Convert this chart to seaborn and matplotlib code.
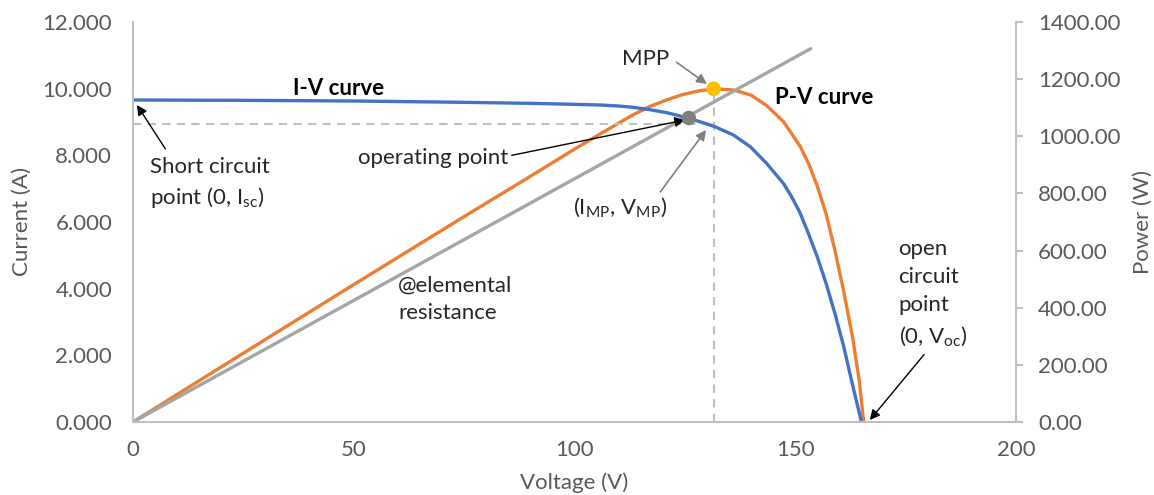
import matplotlib
matplotlib.use("Agg")
import matplotlib.pyplot as plt
import seaborn as sns

# ---- data ----
iv_voltage = [0, 25, 50, 75, 90, 100, 105.8, 110, 113.3, 117, 120.9, 124.5, 128.4,
              131.8, 136.0, 139.8, 143.5, 147.3, 149, 151, 153, 155, 157, 159, 161,
              163, 165.0]
iv_current = [9.66, 9.65, 9.63, 9.59, 9.56, 9.53, 9.51, 9.48, 9.44, 9.37, 9.28, 9.16,
              9.01, 8.86, 8.61, 8.26, 7.76, 7.16, 6.80, 6.30, 5.65, 4.95, 4.15, 3.25,
              2.25, 1.10, 0.0]
pv_voltage = [0, 25, 50, 75, 90, 100, 106, 113, 117, 121, 124.5, 128.5, 132, 136, 140,
              143.5, 147.3, 151.1, 153, 155, 157, 159, 161, 163, 164.5, 165.5]
pv_power = [0, 241, 481, 719, 860, 955, 1010, 1073, 1104, 1128, 1146, 1160, 1166, 1162,
            1144, 1108, 1052, 965, 905, 825, 728, 600, 455, 295, 145, 0]
res_v = [0, 153.5]
res_i = [0, 11.2]
op_v, op_i = 125.9, 9.12
mpp_v, mpp_p = 131.5, 1166
imp = 8.95

x_ticks = [0, 50, 100, 150, 200]
i_ticks = [0, 2, 4, 6, 8, 10, 12]
p_ticks = [0, 200, 400, 600, 800, 1000, 1200, 1400]

sns.set_theme(style="white")
plt.rcParams['font.family'] = ['Lato', 'DejaVu Sans']
plt.rcParams['mathtext.fontset'] = 'custom'
plt.rcParams['mathtext.rm'] = 'Lato'
plt.rcParams['mathtext.it'] = 'Lato:italic'
plt.rcParams['mathtext.bf'] = 'Lato:bold'

BLUE = "#4472C4"
ORANGE = "#ED7D31"
GRAY = "#A5A5A5"
SPINE = "#BFBFBF"
TXT = "#595959"
DARK = "#262626"
FS = 16

fig = plt.figure(figsize=(11.54, 4.95), dpi=100)
ax = fig.add_axes([133/1154, 1-422/495, (1016-133)/1154, 400/495])
ax2 = ax.twinx()
ax.set_zorder(ax2.get_zorder() + 1)
ax.patch.set_visible(False)

# P-V curve on power axis
sns.lineplot(x=pv_voltage, y=pv_power, ax=ax2, color=ORANGE, lw=2.4, sort=False)
ax2.vlines(mpp_v, 0, mpp_p, colors=SPINE, linestyles=(0, (4, 3)), lw=1.5, zorder=1)
ax2.scatter([mpp_v], [mpp_p], s=110, color="#FFC000", zorder=5, edgecolors='none')

# I-V curve and resistance line on current axis
ax.hlines(imp, 0, mpp_v, colors=SPINE, linestyles=(0, (4, 3)), lw=1.5, zorder=1)
sns.lineplot(x=iv_voltage, y=iv_current, ax=ax, color=BLUE, lw=2.4, sort=False)
sns.lineplot(x=res_v, y=res_i, ax=ax, color=GRAY, lw=2.4, sort=False)
ax.scatter([op_v], [op_i], s=110, color="#7F7F7F", zorder=5, edgecolors='none')

ax.set_xlim(0, 200)
ax.set_ylim(0, 12)
ax2.set_ylim(0, 1400)
ax.set_xticks(x_ticks)
ax.set_xticklabels([str(v) for v in x_ticks])
ax.set_yticks(i_ticks)
ax.set_yticklabels([f"{v:.3f}" for v in i_ticks])
ax2.set_yticks(p_ticks)
ax2.set_yticklabels([f"{v:.2f}" for v in p_ticks])

for a in (ax, ax2):
    for s in a.spines.values():
        s.set_color(SPINE)
        s.set_linewidth(1.5)
    a.spines['top'].set_visible(False)
    a.tick_params(colors=TXT, labelsize=FS)
ax.spines['right'].set_visible(False)
ax2.spines['left'].set_visible(False)
ax2.spines['bottom'].set_visible(False)
ax.tick_params(axis='y', length=0, pad=15)
ax.tick_params(axis='x', length=0, pad=13)
ax2.tick_params(axis='y', length=5, width=1.5, color=SPINE, pad=11, direction='out')

ax.set_xlabel("Voltage (V)", fontsize=FS, color=TXT, labelpad=9)
ax.set_ylabel("Current (A)", fontsize=FS, color=TXT, labelpad=8)
ax2.set_ylabel("Power (W)", fontsize=FS, color=TXT, labelpad=9)
ax.grid(False); ax2.grid(False)

# annotations
ax.text(46.5, 10.0, "I-V curve", fontsize=FS, fontweight='bold', ha='center', va='center', color='black')
ax.text(156.5, 9.75, "P-V curve", fontsize=FS, fontweight='bold', ha='center', va='center', color='black')
ax.annotate("MPP", xy=(130, 10.14), xytext=(116, 10.9), fontsize=FS, ha='center', va='center',
            color=DARK,
            arrowprops=dict(arrowstyle='-|>', color='#808080', lw=1.2, shrinkA=4, shrinkB=0,
                            mutation_scale=15, relpos=(1.0, 0.6)))
ax.annotate("Short circuit\npoint (0, I$_{\\mathrm{sc}}$)", xy=(0.9, 9.51), xytext=(3.9, 7.15),
            fontsize=FS, ha='left', va='center', linespacing=1.45, color=DARK,
            arrowprops=dict(arrowstyle='-|>', color='black', lw=1.0, shrinkA=4, shrinkB=0,
                            mutation_scale=15, relpos=(0.17, 1.0)))
ax.annotate("operating point", xy=(125, 9.06), xytext=(51, 7.92), fontsize=FS, ha='left',
            va='center', color=DARK,
            arrowprops=dict(arrowstyle='-|>', color='black', lw=1.0, shrinkA=0, shrinkB=0,
                            mutation_scale=15, relpos=(1.0, 0.6)))
ax.annotate("(I$_{\\mathrm{MP}}$, V$_{\\mathrm{MP}}$)", xy=(129.8, 8.76), xytext=(99.7, 6.45),
            fontsize=FS, ha='left', va='center', color=DARK,
            arrowprops=dict(arrowstyle='-|>', color='#808080', lw=1.2, shrinkA=0, shrinkB=0,
                            mutation_scale=15, relpos=(0.9, 1.0)))
ax.text(60, 3.69, "@elemental\nresistance", fontsize=FS, ha='left', va='center',
        linespacing=1.45, color=DARK)
ax.annotate("open\ncircuit\npoint\n(0, V$_{\\mathrm{oc}}$)", xy=(166.9, 0.06), xytext=(173.4, 3.85),
            fontsize=FS, ha='left', va='center', linespacing=1.5, color=DARK,
            arrowprops=dict(arrowstyle='-|>', color='black', lw=1.0, shrinkA=3, shrinkB=0,
                            mutation_scale=15, relpos=(0.45, 0.0)))

fig.savefig("out.png", dpi=100)
